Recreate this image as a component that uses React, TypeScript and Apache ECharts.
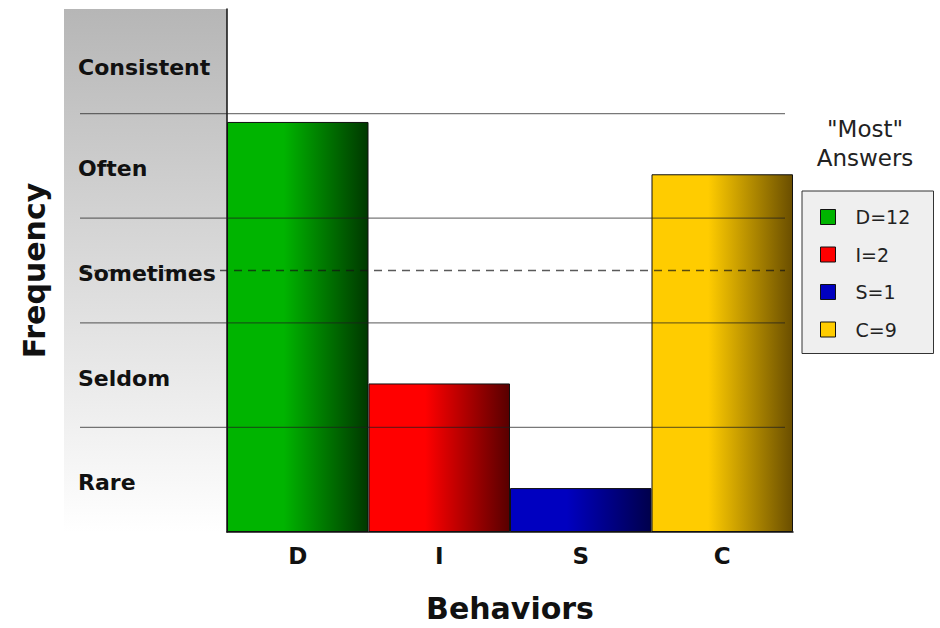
import React, { useEffect, useRef } from "react";
import * as echarts from "echarts";

const categories = ["D", "I", "S", "C"];
const counts = [12, 2, 1, 9];
const barHeights = [3.92, 1.42, 0.42, 3.42];
const bandLabels = ["Rare", "Seldom", "Sometimes", "Often", "Consistent"];
const solidLevels = [1, 2, 3, 4];
const dashedLevels = [2.5];
const baseColors = ["#00b400", "#ff0000", "#0000c0", "#ffcc00"];
const darkColors = ["#003800", "#580000", "#00004c", "#6a4e00"];

const FONT = "DejaVu Sans";

export default function App() {
  const ref = useRef<HTMLDivElement>(null);
  useEffect(() => {
    if (!ref.current) return;
    const chart = echarts.init(ref.current, null, { renderer: "svg" });
    const labelStyle = { fontFamily: FONT, fontWeight: "bold", fontSize: 22, color: "#111" };
    const option: any = {
      animation: false,
      backgroundColor: "#ffffff",
      grid: { left: 227, right: 147, top: 9, bottom: 93 },
      legend: {
        orient: "vertical",
        left: 802,
        top: 191,
        padding: [16, 18, 14, 18],
        itemWidth: 15,
        itemHeight: 15,
        itemGap: 17.5,
        backgroundColor: "#efefef",
        borderColor: "#333",
        borderWidth: 1,
        textStyle: { fontFamily: FONT, fontSize: 19, color: "#222", lineHeight: 20, padding: [0, 0, 0, 15], width: 60 },
        data: categories.map((c, i) => ({
          name: `${c}=${counts[i]}`,
          icon: "rect",
          itemStyle: { color: baseColors[i], borderColor: "#111", borderWidth: 1 },
        })),
      },
      xAxis: {
        type: "category",
        data: categories,
        axisLine: { lineStyle: { color: "#111", width: 1.5 } },
        axisTick: { show: false },
        axisLabel: { fontFamily: FONT, fontWeight: "bold", fontSize: 23, color: "#111", margin: 12 },
        name: "Behaviors",
        nameLocation: "middle",
        nameGap: 61,
        nameTextStyle: { fontFamily: FONT, fontWeight: "bold", fontSize: 30, color: "#111" },
      },
      yAxis: [
        {
          type: "category",
          data: bandLabels,
          boundaryGap: true,
          axisLine: { show: true, lineStyle: { color: "#111", width: 1.5 } },
          axisTick: { show: false },
          splitLine: { show: false },
          axisLabel: {
            align: "left",
            verticalAlign: "top",
            margin: 149,
            ...labelStyle,
            lineHeight: 6,
            formatter: (v: string) => (v === bandLabels[bandLabels.length - 1] ? `{top|${v}}` : v),
            rich: { top: { ...labelStyle, lineHeight: 12 } },
          },
          name: "Frequency",
          nameLocation: "middle",
          nameGap: 178,
          nameRotate: 90,
          nameTextStyle: { fontFamily: FONT, fontWeight: "bold", fontSize: 30, color: "#111" },
        },
        { type: "value", min: 0, max: 5, interval: 1, show: false, splitLine: { show: false } },
      ],
      series: categories.map((c, i) => ({
        type: "bar",
        name: `${c}=${counts[i]}`,
        stack: "all",
        yAxisIndex: 1,
        barWidth: "100%",
        data: categories.map((_, j) => (j === i ? barHeights[i] : "-")),
        itemStyle: {
          borderColor: "#111",
          borderWidth: 1,
          color: new echarts.graphic.LinearGradient(0, 0, 1, 0, [
            { offset: 0, color: baseColors[i] },
            { offset: 0.4, color: baseColors[i] },
            { offset: 1, color: darkColors[i] },
          ]),
        },
      })),
    };
    chart.setOption(option);

    const yPix = (v: number) => chart.convertToPixel({ yAxisIndex: 1 }, v) as number;
    const top = yPix(5);
    const bottom = yPix(0);
    const graphic: any[] = [
      {
        type: "rect",
        z: -1,
        shape: { x: 64, y: top, width: 163, height: bottom - top },
        style: {
          fill: new echarts.graphic.LinearGradient(0, 0, 0, 1, [
            { offset: 0, color: "#b6b6b6" },
            { offset: 1, color: "#ffffff" },
          ]),
        },
      },
      ...solidLevels.map((v) => ({
        type: "line",
        z: 100,
        shape: { x1: 80, y1: yPix(v), x2: 785, y2: yPix(v) },
        style: { stroke: "rgba(30,30,30,0.6)", lineWidth: 1.3 },
      })),
      ...dashedLevels.map((v) => ({
        type: "line",
        z: 100,
        shape: { x1: 80, y1: yPix(v), x2: 785, y2: yPix(v) },
        style: { stroke: "rgba(20,20,20,0.7)", lineWidth: 1.4, lineDash: [8, 6] },
      })),
      {
        type: "text",
        x: 865,
        y: 114,
        style: {
          text: '"Most"\nAnswers',
          align: "center",
          fontFamily: FONT,
          fontSize: 23,
          lineHeight: 29,
          fill: "#222",
        },
      },
    ];
    chart.setOption({ graphic });
    return () => chart.dispose();
  }, []);
  return <div ref={ref} style={{ position: "fixed", left: 0, top: 0, width: 940, height: 628 }} />;
}
